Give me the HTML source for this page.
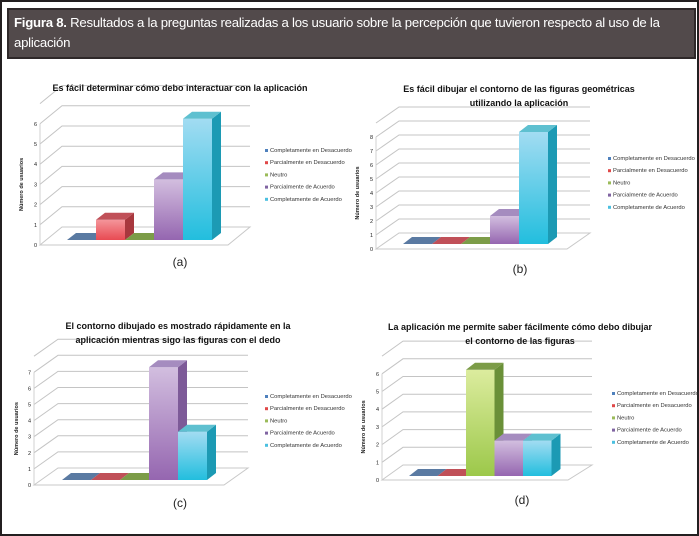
<!DOCTYPE html>
<html><head><meta charset="utf-8">
<style>
body{margin:0;width:699px;height:536px;background:#fff;overflow:hidden;font-family:"Liberation Sans",sans-serif;}
#frame{position:absolute;left:0;top:0;width:695px;height:532px;border:2px solid #231f20;}
#hdr{position:absolute;left:7px;top:8px;width:680px;height:44px;background:#524a4b;border:2px solid #2e2829;color:#fff;font-size:13.2px;letter-spacing:-0.25px;line-height:20px;padding:3px 0 0 5px;box-sizing:content-box;}
svg{position:absolute;left:0;top:0;}
</style></head><body>
<div id="frame"></div>
<div id="hdr"><b>Figura 8.</b> Resultados a la preguntas realizadas a los usuario sobre la percepción que tuvieron respecto al uso de la<br>aplicación</div>
<svg id="chart" width="699" height="536">
<defs>
<linearGradient id="g0" x1="0" y1="0" x2="0" y2="1"><stop offset="0" stop-color="#6f8fb8"/><stop offset="1" stop-color="#3e6594"/></linearGradient>
<linearGradient id="g1" x1="0" y1="0" x2="0" y2="1"><stop offset="0" stop-color="#f4959a"/><stop offset="1" stop-color="#e84a52"/></linearGradient>
<linearGradient id="g2" x1="0" y1="0" x2="0" y2="1"><stop offset="0" stop-color="#dcec9e"/><stop offset="1" stop-color="#9cc84a"/></linearGradient>
<linearGradient id="g3" x1="0" y1="0" x2="0" y2="1"><stop offset="0" stop-color="#d2bedf"/><stop offset="1" stop-color="#9566b0"/></linearGradient>
<linearGradient id="g4" x1="0" y1="0" x2="0" y2="1"><stop offset="0" stop-color="#a2dcf2"/><stop offset="1" stop-color="#22bede"/></linearGradient>
</defs>
</svg>
<script>
const categories = ["Completamente en Desacuerdo","Parcialmente en Desacuerdo","Neutro","Parcialmente de Acuerdo","Completamente de Acuerdo"];
const valuesA = [0,1,0,3,6];
const valuesB = [0,0,0,2,8];
const valuesC = [0,0,0,7,3];
const valuesD = [0,0,6,2,2];
const ticksA = [0,1,2,3,4,5,6];
const ticksB = [0,1,2,3,4,5,6,7,8];
const ticksC = [0,1,2,3,4,5,6,7];
const ticksD = [0,1,2,3,4,5,6];
const titleA = ["Es fácil determinar cómo debo interactuar con la aplicación"];
const titleB = ["Es fácil dibujar el contorno de las figuras geométricas","utilizando la aplicación"];
const titleC = ["El contorno dibujado es mostrado rápidamente en la","aplicación mientras sigo las figuras con el dedo"];
const titleD = ["La aplicación me permite saber fácilmente cómo debo dibujar","el contorno de las figuras"];

const topCol=["#5a7aa2","#c05058","#7c9c48","#a58cbf","#5ec0d0"];
const sideCol=["#34577f","#a8383e","#6a9038","#7d5a98","#1c9ab4"];
const legCol=["#4f81bd","#e04848","#9bbb59","#8064a2","#4bc0e0"];
const svg=document.getElementById('chart');
const NS="http://www.w3.org/2000/svg";
function mk(tag,attrs,parent){const e=document.createElementNS(NS,tag);for(const k in attrs)e.setAttribute(k,attrs[k]);(parent||svg).appendChild(e);return e;}

const panels=[
 {id:'a',vals:valuesA,ticks:ticksA,title:titleA,ax:40,y0:245,bdx:22,bdy:18,rx:250,fr:228,u:20.2,bx:67,bw:29,bb:240,lx:265,ly:152,ty:91,tx:180,cx:180,cy:266,yt:23},
 {id:'b',vals:valuesB,ticks:ticksB,title:titleB,ax:376,y0:249,bdx:23,bdy:16,rx:590,fr:567,u:14.0,bx:403,bw:29,bb:244,lx:608,ly:160,ty:92,tx:519,cx:520,cy:273,yt:359},
 {id:'c',vals:valuesC,ticks:ticksC,title:titleC,ax:34,y0:485,bdx:24,bdy:17,rx:248,fr:224,u:16.1,bx:62,bw:29,bb:480,lx:265,ly:398,ty:329,tx:178,cx:180,cy:507,yt:18},
 {id:'d',vals:valuesD,ticks:ticksD,title:titleD,ax:382,y0:480,bdx:21,bdy:15,rx:592,fr:568,u:17.7,bx:409,bw:28.5,bb:476,lx:612,ly:395,ty:330,tx:520,cx:522,cy:504,yt:365}
];
function yScale(p,v){return p.y0-v*p.u;}
function xBand(p,i){return p.bx+i*p.bw;}

panels.forEach(p=>{
 const g=mk('g',{});
 
 
 const n=p.ticks.length;
 const fl=mk('polygon',{points:`${p.ax},${p.y0} ${p.ax+p.bdx},${p.y0-p.bdy} ${p.rx},${p.y0-p.bdy} ${p.fr},${p.y0}`,fill:'#fff',stroke:'#c8c8c8','stroke-width':1},g);
 
 
 for(let k=1;k<=n;k++){
  const y=yScale(p,k);
  const gl=mk('polyline',{points:`${p.ax},${y} ${p.ax+p.bdx},${y-p.bdy} ${p.rx},${y-p.bdy}`,fill:'none',stroke:'#c4c4c4','stroke-width':1},g);
  
  
 }
 mk('line',{x1:p.ax,y1:p.y0,x2:p.ax,y2:yScale(p,n-1),stroke:'#d0d0d0'},g);
 p.ticks.forEach(t=>{
  const tl=mk('text',{x:p.ax-3,y:yScale(p,t)+2,'font-size':5.5,'text-anchor':'end',fill:'#222'},g);
  tl.textContent=t;
  
  
 });
 const yt=mk('text',{x:0,y:0,'font-size':5.5,'font-weight':'bold','text-anchor':'middle',fill:'#222',transform:`translate(${p.yt},${yScale(p,(n-1)/2)}) rotate(-90)`},g);
 yt.textContent='Número de usuarios';
 
 
 const dx=9,dy=7;
 p.vals.forEach((v,i)=>{
  const x=xBand(p,i),w=p.bw,yb=p.bb,yt2=p.bb-v*p.u;
  const bg=mk('g',{},g);
  
  
  if(v>0){
   mk('rect',{x:x,y:yt2,width:w,height:yb-yt2,fill:'url(#g'+i+')'},bg);
   mk('polygon',{points:`${x+w},${yt2} ${x+w+dx},${yt2-dy} ${x+w+dx},${yb-dy} ${x+w},${yb}`,fill:sideCol[i]},bg);
  }
  mk('polygon',{points:`${x},${yt2} ${x+dx},${yt2-dy} ${x+w+dx},${yt2-dy} ${x+w},${yt2}`,fill:topCol[i]},bg);
 });
 categories.forEach((c,i)=>{
  const y=p.ly+i*12.2;
  const lg=mk('g',{},g);
  
  
  mk('rect',{x:p.lx,y:y-3,width:3,height:3,fill:legCol[i]},lg);
  const t=mk('text',{x:p.lx+5,y:y,'font-size':5.8,fill:'#333'},lg);
  t.textContent=c;
 });
 p.title.forEach((l,j)=>{
  const t=mk('text',{x:p.tx,y:p.ty+j*14,'font-size':9,'font-weight':'bold','text-anchor':'middle',fill:'#111'},g);
  t.textContent=l;
  
  
 });
 const cp=mk('text',{x:p.cx,y:p.cy,'font-size':12,'text-anchor':'middle',fill:'#222'},g);
 cp.textContent='('+p.id+')';
 
 
});
</script>
</body></html>
